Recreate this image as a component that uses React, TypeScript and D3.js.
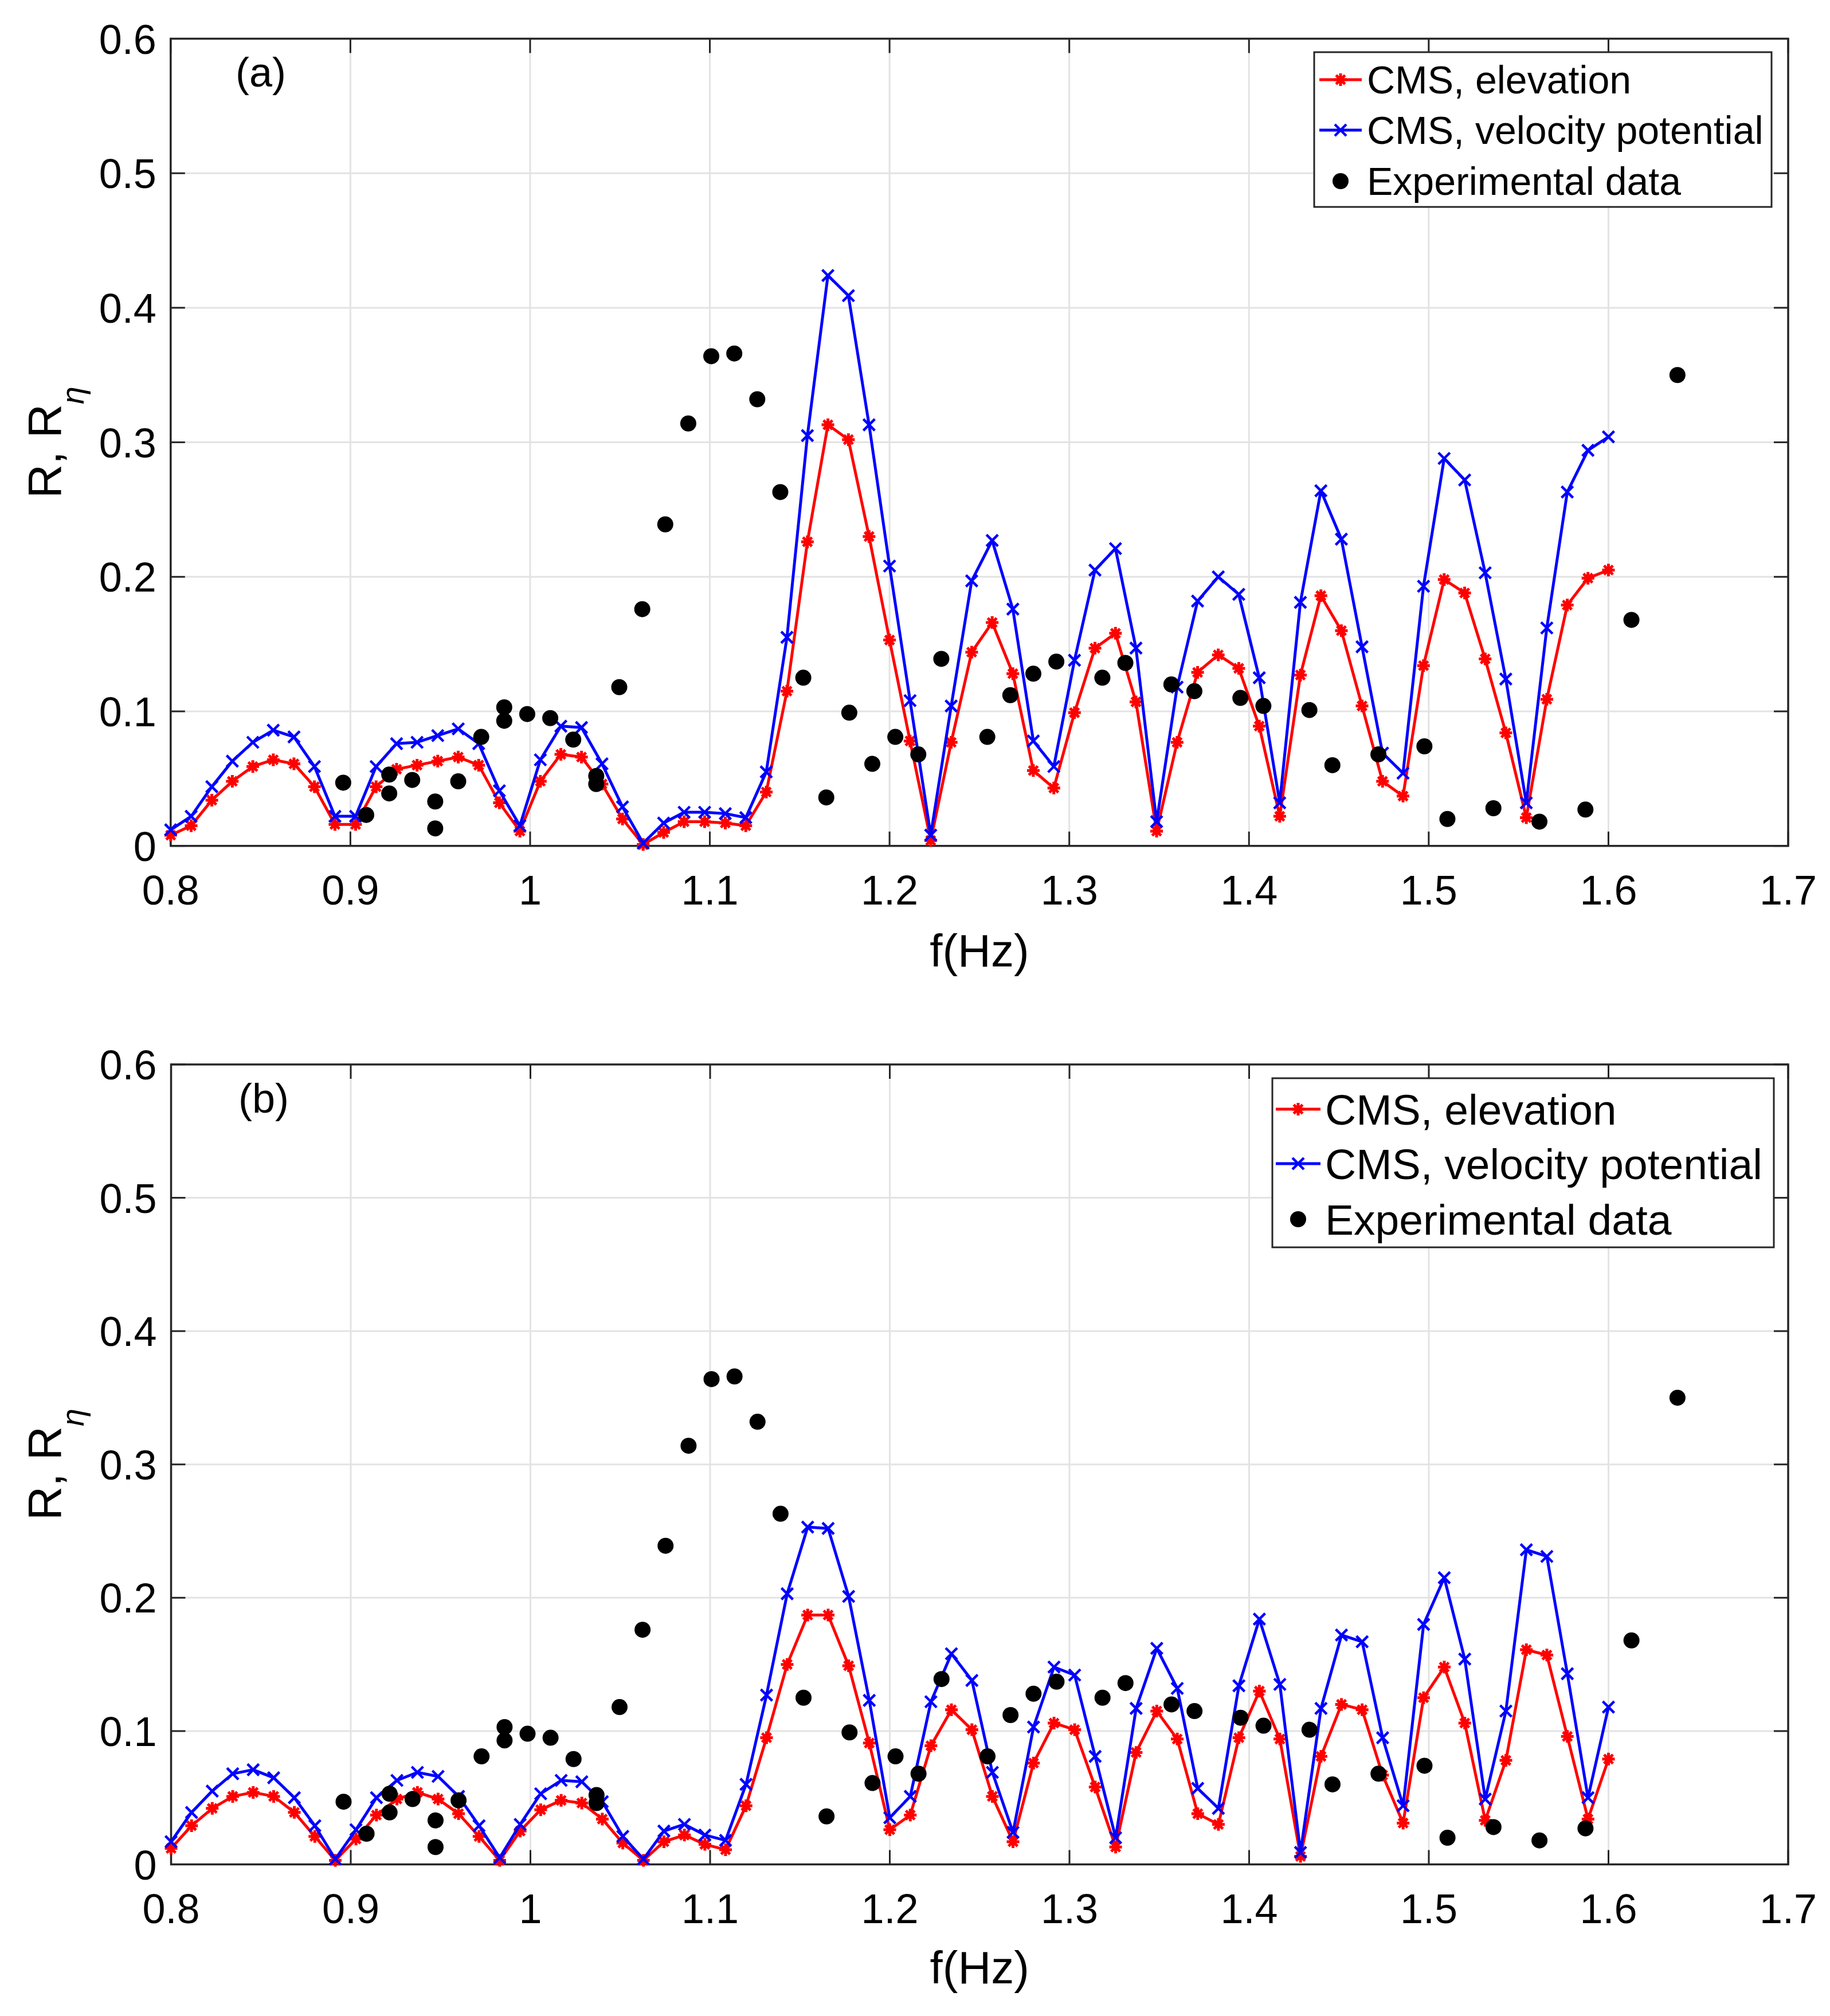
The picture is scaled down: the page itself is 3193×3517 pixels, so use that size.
import React from 'react';
import * as d3 from 'd3';

const FREQ_MODEL = [
  0.8000, 0.8114, 0.8229, 0.8343, 0.8457, 0.8571, 0.8686, 0.8800, 0.8914, 0.9029,
  0.9143, 0.9257, 0.9371, 0.9486, 0.9600, 0.9714, 0.9829, 0.9943, 1.0057, 1.0171,
  1.0286, 1.0400, 1.0514, 1.0629, 1.0743, 1.0857, 1.0971, 1.1086, 1.1200, 1.1314,
  1.1429, 1.1543, 1.1657, 1.1771, 1.1886, 1.2000, 1.2114, 1.2229, 1.2343, 1.2457,
  1.2571, 1.2686, 1.2800, 1.2914, 1.3029, 1.3143, 1.3257, 1.3371, 1.3486, 1.3600,
  1.3714, 1.3829, 1.3943, 1.4057, 1.4171, 1.4286, 1.4400, 1.4514, 1.4629, 1.4743,
  1.4857, 1.4971, 1.5086, 1.5200, 1.5314, 1.5429, 1.5543, 1.5657, 1.5771, 1.5886,
  1.6000,
];

// Panel (a)
const ELEV_A = [
  0.008, 0.015, 0.034, 0.048, 0.059, 0.064, 0.061, 0.044, 0.016, 0.016,
  0.044, 0.057, 0.060, 0.063, 0.066, 0.060, 0.032, 0.011, 0.048, 0.068,
  0.066, 0.046, 0.020, 0.001, 0.010, 0.018, 0.018, 0.017, 0.015, 0.040,
  0.115, 0.226, 0.313, 0.302, 0.230, 0.153, 0.078, 0.004, 0.077, 0.144,
  0.166, 0.128, 0.056, 0.043, 0.099, 0.147, 0.158, 0.107, 0.011, 0.077,
  0.129, 0.142, 0.132, 0.089, 0.022, 0.127, 0.186, 0.160, 0.104, 0.048,
  0.037, 0.134, 0.198, 0.188, 0.139, 0.084, 0.021, 0.109, 0.179, 0.199,
  0.205,
];
const VELPOT_A = [
  0.012, 0.022, 0.044, 0.063, 0.077, 0.086, 0.081, 0.059, 0.022, 0.022,
  0.059, 0.076, 0.077, 0.082, 0.087, 0.076, 0.041, 0.015, 0.064, 0.089,
  0.088, 0.061, 0.029, 0.002, 0.017, 0.025, 0.025, 0.024, 0.021, 0.055,
  0.155, 0.305, 0.424, 0.409, 0.313, 0.208, 0.108, 0.008, 0.104, 0.197,
  0.227, 0.176, 0.078, 0.059, 0.138, 0.205, 0.221, 0.147, 0.018, 0.118,
  0.182, 0.200, 0.187, 0.125, 0.032, 0.181, 0.264, 0.228, 0.148, 0.069,
  0.054, 0.193, 0.288, 0.272, 0.203, 0.124, 0.032, 0.162, 0.263, 0.294,
  0.304,
];

// Panel (b)
const ELEV_B = [
  0.012, 0.029, 0.042, 0.051, 0.054, 0.051, 0.039, 0.021, 0.003, 0.019,
  0.037, 0.049, 0.054, 0.049, 0.038, 0.021, 0.003, 0.025, 0.041, 0.048,
  0.046, 0.034, 0.016, 0.003, 0.017, 0.022, 0.015, 0.011, 0.044, 0.095,
  0.150, 0.187, 0.187, 0.149, 0.091, 0.026, 0.037, 0.089, 0.116, 0.101,
  0.051, 0.017, 0.076, 0.106, 0.101, 0.058, 0.013, 0.084, 0.115, 0.094,
  0.038, 0.030, 0.095, 0.130, 0.094, 0.006, 0.081, 0.120, 0.116, 0.067,
  0.031, 0.125, 0.148, 0.106, 0.033, 0.078, 0.161, 0.157, 0.096, 0.034,
  0.079,
];
const VELPOT_B = [
  0.017, 0.039, 0.055, 0.068, 0.071, 0.065, 0.050, 0.029, 0.004, 0.026,
  0.050, 0.063, 0.069, 0.066, 0.051, 0.029, 0.005, 0.030, 0.053, 0.063,
  0.062, 0.047, 0.021, 0.004, 0.025, 0.030, 0.022, 0.018, 0.060, 0.127,
  0.203, 0.253, 0.252, 0.201, 0.123, 0.035, 0.051, 0.122, 0.158, 0.138,
  0.069, 0.024, 0.103, 0.148, 0.142, 0.081, 0.020, 0.117, 0.162, 0.132,
  0.057, 0.042, 0.134, 0.184, 0.135, 0.009, 0.117, 0.172, 0.167, 0.095,
  0.044, 0.180, 0.215, 0.154, 0.049, 0.115, 0.236, 0.231, 0.143, 0.050,
  0.118,
];

// Experimental data (same in both panels)
const FREQ_EXP = [
  0.8960, 0.9088, 0.9216, 0.9216, 0.9344, 0.9472, 0.9472, 0.9600, 0.9728, 0.9856,
  0.9856, 0.9984, 1.0112, 1.0240, 1.0368, 1.0368, 1.0496, 1.0624, 1.0752, 1.0880,
  1.1008, 1.1136, 1.1264, 1.1392, 1.1520, 1.1648, 1.1776, 1.1904, 1.2032, 1.2160,
  1.2288, 1.2544, 1.2672, 1.2800, 1.2928, 1.3184, 1.3312, 1.3568, 1.3696, 1.3952,
  1.4080, 1.4336, 1.4464, 1.4720, 1.4976, 1.5104, 1.5360, 1.5616, 1.5872, 1.6128,
  1.6384,
];
const R_EXP = [
  0.047, 0.023, 0.053, 0.039, 0.049, 0.033, 0.013, 0.048, 0.081, 0.103,
  0.093, 0.098, 0.095, 0.079, 0.052, 0.046, 0.118, 0.176, 0.239, 0.314,
  0.364, 0.366, 0.332, 0.263, 0.125, 0.036, 0.099, 0.061, 0.081, 0.068,
  0.139, 0.081, 0.112, 0.128, 0.137, 0.125, 0.136, 0.120, 0.115, 0.110,
  0.104, 0.101, 0.060, 0.068, 0.074, 0.020, 0.028, 0.018, 0.027, 0.168,
  0.350,
];

const X_TICKS = [0.8, 0.9, 1.0, 1.1, 1.2, 1.3, 1.4, 1.5, 1.6, 1.7];
const X_TICK_LABELS = ['0.8', '0.9', '1', '1.1', '1.2', '1.3', '1.4', '1.5', '1.6', '1.7'];
const Y_TICKS = [0, 0.1, 0.2, 0.3, 0.4, 0.5, 0.6];
const Y_TICK_LABELS = ['0', '0.1', '0.2', '0.3', '0.4', '0.5', '0.6'];
const LEGEND_LABELS = ['CMS, elevation', 'CMS, velocity potential', 'Experimental data'];
const PANEL_LABELS = ['(a)', '(b)'];

const FONT = "'Liberation Sans', Arial, Helvetica, sans-serif";
const AXIS_COLOR = '#262626';
const GRID_COLOR = '#e3e3e3';
const RED = '#ff0000';
const BLUE = '#0000ff';

function starPath(r: number) {
  const k = r * 0.7071;
  return `M${-r},0H${r}M0,${-r}V${r}M${-k},${-k}L${k},${k}M${-k},${k}L${k},${-k}`;
}
function xPath(r: number) {
  return `M${-r},${-r}L${r},${r}M${-r},${r}L${r},${-r}`;
}

type PanelProps = {
  left: number; right: number; top: number; bottom: number;
  elev: number[]; vel: number[]; label: string;
  legend: { x0: number; x1: number; y0: number; y1: number; sx0: number; sx1: number; tx: number; rows: number[]; font: number };
  labelX: number; labelBaseline: number; xlabelBaseline: number;
};

function Panel(p: PanelProps) {
  const x = d3.scaleLinear().domain([0.8, 1.7]).range([p.left, p.right]);
  const y = d3.scaleLinear().domain([0, 0.6]).range([p.bottom, p.top]);
  const line = d3.line<number>().x((_, i) => x(FREQ_MODEL[i])).y((d) => y(d));
  const tickLen = 25;
  const lw = 5;
  const lg = p.legend;
  const midY = (p.top + p.bottom) / 2;
  const midX = (p.left + p.right) / 2;
  return (
    <g>
      {/* grid */}
      {X_TICKS.map((t, i) => (
        <line key={'gx' + i} x1={x(t)} x2={x(t)} y1={p.top} y2={p.bottom} stroke={GRID_COLOR} strokeWidth={3} />
      ))}
      {Y_TICKS.map((t, i) => (
        <line key={'gy' + i} x1={p.left} x2={p.right} y1={y(t)} y2={y(t)} stroke={GRID_COLOR} strokeWidth={3} />
      ))}
      {/* ticks */}
      {X_TICKS.map((t, i) => (
        <g key={'tx' + i}>
          <line x1={x(t)} x2={x(t)} y1={p.bottom} y2={p.bottom - tickLen} stroke={AXIS_COLOR} strokeWidth={3} />
          <line x1={x(t)} x2={x(t)} y1={p.top} y2={p.top + tickLen} stroke={AXIS_COLOR} strokeWidth={3} />
          <text x={x(t)} y={p.bottom + 102} textAnchor="middle" fontFamily={FONT} fontSize={72} fill="#000">
            {X_TICK_LABELS[i]}
          </text>
        </g>
      ))}
      {Y_TICKS.map((t, i) => (
        <g key={'ty' + i}>
          <line x1={p.left} x2={p.left + tickLen} y1={y(t)} y2={y(t)} stroke={AXIS_COLOR} strokeWidth={3} />
          <line x1={p.right} x2={p.right - tickLen} y1={y(t)} y2={y(t)} stroke={AXIS_COLOR} strokeWidth={3} />
          <text x={p.left - 25} y={y(t) + 26} textAnchor="end" fontFamily={FONT} fontSize={72} fill="#000">
            {Y_TICK_LABELS[i]}
          </text>
        </g>
      ))}
      {/* box */}
      <rect x={p.left} y={p.top} width={p.right - p.left} height={p.bottom - p.top} fill="none" stroke={AXIS_COLOR} strokeWidth={3.5} />

      {/* elevation series */}
      <path d={line(p.elev) || ''} fill="none" stroke={RED} strokeWidth={lw} strokeLinejoin="round" />
      {p.elev.map((v, i) => (
        <path key={'re' + i} d={starPath(11)} transform={`translate(${x(FREQ_MODEL[i])},${y(v)})`} stroke={RED} strokeWidth={5} fill="none" />
      ))}
      {/* velocity potential series */}
      <path d={line(p.vel) || ''} fill="none" stroke={BLUE} strokeWidth={lw} strokeLinejoin="round" />
      {p.vel.map((v, i) => (
        <path key={'bv' + i} d={xPath(10)} transform={`translate(${x(FREQ_MODEL[i])},${y(v)})`} stroke={BLUE} strokeWidth={4.5} fill="none" />
      ))}
      {/* experimental */}
      {R_EXP.map((v, i) => (
        <circle key={'ex' + i} cx={x(FREQ_EXP[i])} cy={y(v)} r={14} fill="#000" />
      ))}

      {/* panel label */}
      <text x={p.labelX} y={p.labelBaseline} fontFamily={FONT} fontSize={72} fill="#000">{p.label}</text>

      {/* axis labels */}
      <text x={midX} y={p.xlabelBaseline} textAnchor="middle" fontFamily={FONT} fontSize={80} fill="#000">f(Hz)</text>
      <text transform={`translate(106,${midY}) rotate(-90)`} textAnchor="middle" fontFamily={FONT} fontSize={82} fill="#000">
        R, R<tspan fontSize={56} dy={40} fontStyle="italic">η</tspan>
      </text>

      {/* legend */}
      <rect x={lg.x0} y={lg.y0} width={lg.x1 - lg.x0} height={lg.y1 - lg.y0} fill="#fff" stroke={AXIS_COLOR} strokeWidth={3} />
      <line x1={lg.sx0} x2={lg.sx1} y1={lg.rows[0]} y2={lg.rows[0]} stroke={RED} strokeWidth={lw} />
      <path d={starPath(11)} transform={`translate(${(lg.sx0 + lg.sx1) / 2},${lg.rows[0]})`} stroke={RED} strokeWidth={5} fill="none" />
      <line x1={lg.sx0} x2={lg.sx1} y1={lg.rows[1]} y2={lg.rows[1]} stroke={BLUE} strokeWidth={lw} />
      <path d={xPath(10)} transform={`translate(${(lg.sx0 + lg.sx1) / 2},${lg.rows[1]})`} stroke={BLUE} strokeWidth={4.5} fill="none" />
      <circle cx={(lg.sx0 + lg.sx1) / 2} cy={lg.rows[2]} r={14} fill="#000" />
      {LEGEND_LABELS.map((s, i) => (
        <text key={'lg' + i} x={lg.tx} y={lg.rows[i] + lg.font * 0.36} fontFamily={FONT} fontSize={lg.font} fill="#000">{s}</text>
      ))}
    </g>
  );
}

export default function App() {
  return (
    <svg width={3193} height={3517} viewBox="0 0 3193 3517" style={{ position: 'absolute', left: 0, top: 0, background: '#fff' }}>
      <rect x={0} y={0} width={3193} height={3517} fill="#fff" />
      <Panel
        left={297.8} right={3120} top={67.5} bottom={1475.7}
        elev={ELEV_A} vel={VELPOT_A} label={PANEL_LABELS[0]}
        labelX={411} labelBaseline={151} xlabelBaseline={1686}
        legend={{ x0: 2293, x1: 3091, y0: 91, y1: 361, sx0: 2302, sx1: 2376, tx: 2385, rows: [139, 227, 316], font: 68 }}
      />
      <Panel
        left={298.5} right={3120} top={1857} bottom={3252.5}
        elev={ELEV_B} vel={VELPOT_B} label={PANEL_LABELS[1]}
        labelX={416} labelBaseline={1941} xlabelBaseline={3460}
        legend={{ x0: 2220, x1: 3095, y0: 1881, y1: 2176, sx0: 2226, sx1: 2304, tx: 2312, rows: [1935, 2030, 2127], font: 75 }}
      />
    </svg>
  );
}
